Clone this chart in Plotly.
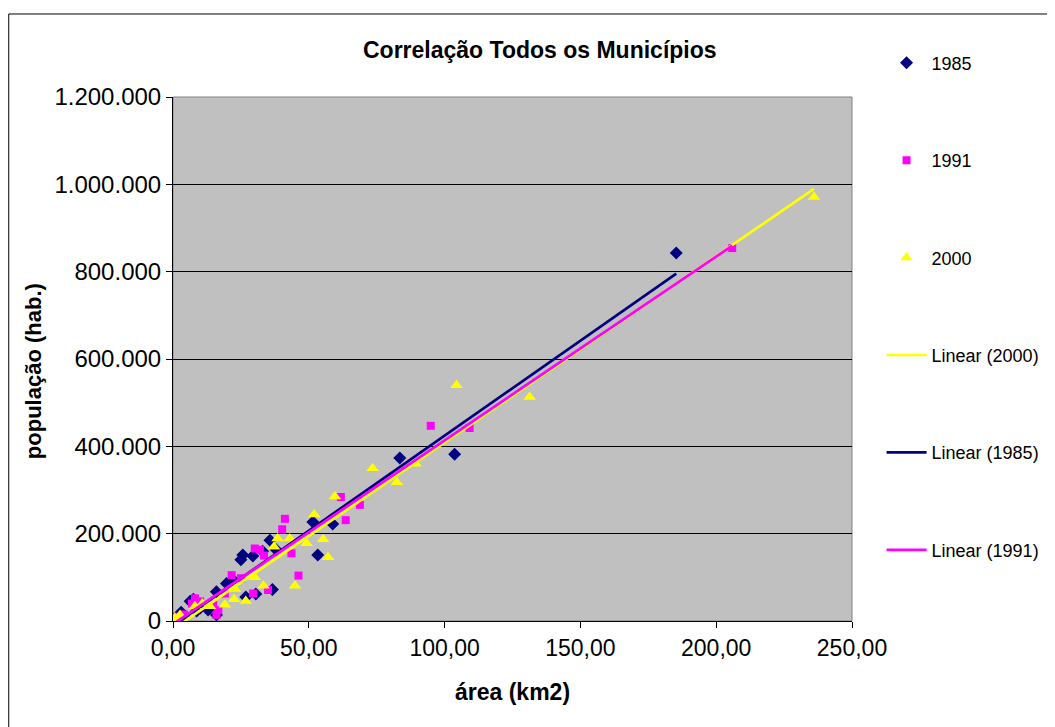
import numpy as np
import plotly.graph_objects as go

# ---- data (area km2, population in thousands) ----
area_1985 = [185.3, 103.7, 83.5, 58.8, 51.5, 53.3, 38.0, 35.7, 29.4, 25.7, 25.0, 36.6, 30.5,
             26.8, 19.7, 16.0, 12.9, 16.0, 8.7, 7.5, 6.3, 4.0, 2.0, 1.0, 3.0, 10.0, 22.0, 33.0]
pop_1985 = [843, 382, 373, 222, 227, 151, 163, 185, 149, 151, 140, 72, 62,
            55, 86, 67, 25, 14, 23, 50, 45, 12, 8, 5, 20, 30, 95, 160]

area_1991 = [205.9, 109.2, 94.9, 68.8, 63.6, 61.8, 41.2, 40.2, 43.6, 46.2, 30.1, 32.0, 35.0,
             29.5, 25.0, 21.6, 19.1, 14.8, 16.0, 16.7, 8.1, 7.0, 0.1, 2.0, 4.0, 10.0, 33.5]
pop_1991 = [854, 442, 447, 266, 231, 284, 234, 210, 155, 104, 166, 163, 71,
            63, 98, 105, 63, 38, 14, 25, 52, 40, 10, 5, 15, 45, 150]

area_2000 = [236.0, 131.3, 104.4, 89.3, 82.4, 73.5, 59.6, 57.1, 55.3, 52.0, 49.2, 44.9, 43.0,
             38.5, 37.2, 33.3, 30.1, 22.8, 22.5, 26.8, 19.1, 13.6, 10.8, 8.1, 2.6, 0.7, 1.5]
pop_2000 = [971, 513, 540, 360, 318, 350, 285, 146, 187, 244, 178, 81, 189,
            189, 170, 81, 100, 73, 50, 46, 37, 34, 40, 34, 14, 7, 3]

series_names = ["1985", "1991", "2000"]
colors = {"1985": "#000080", "1991": "#FF00FF", "2000": "#FFFF00"}
symbols = {"1985": "diamond", "1991": "square", "2000": "triangle-up"}
sizes = {"1985": 10, "1991": 8, "2000": 11}

data = {
    "1985": (area_1985, pop_1985),
    "1991": (area_1991, pop_1991),
    "2000": (area_2000, pop_2000),
}

FONT = "Liberation Sans, Arial, sans-serif"

fig = go.Figure()

for i, name in enumerate(series_names):
    xs, ys = data[name]
    fig.add_trace(go.Scatter(
        x=xs, y=[v * 1000 for v in ys], mode="markers", name=name,
        marker=dict(symbol=symbols[name], color=colors[name], size=sizes[name],
                    line=dict(width=0)),
        legendgroup=f"g{i}", legendrank=i + 1,
    ))

# linear trendlines (least squares fit of each series)
for j, name in enumerate(["2000", "1985", "1991"]):
    xs, ys = data[name]
    xa = np.array(xs, dtype=float)
    ya = np.array(ys, dtype=float) * 1000
    m, b = np.polyfit(xa, ya, 1)
    xl = np.array([xa.min(), xa.max()])
    fig.add_trace(go.Scatter(
        x=xl, y=m * xl + b, mode="lines", name=f"Linear ({name})",
        line=dict(color=colors[name], width=2.7),
        legendgroup=f"l{j}", legendrank=10 + j,
    ))

fig.update_layout(
    width=1047, height=719,
    margin=dict(l=165, r=202, t=89, b=106),
    paper_bgcolor="white",
    plot_bgcolor="#C0C0C0",
    separators=",.",
    font=dict(family=FONT, color="black", size=19),
    showlegend=True,
    legend=dict(
        x=1.042, xanchor="left", y=1.1, yanchor="top",
        font=dict(family=FONT, size=18, color="black"),
        tracegroupgap=71, bgcolor="rgba(0,0,0,0)",
        itemwidth=40, maxheight=700,
    ),
    xaxis=dict(
        range=[0, 250], tickvals=[0, 50, 100, 150, 200, 250], tickformat=",.2f",
        showgrid=False, zeroline=False,
        ticks="outside", ticklen=6, tickcolor="black",
        showline=True, linecolor="black", linewidth=1, mirror=False,
        tickfont=dict(size=23, family=FONT, color="black"),
    ),
    yaxis=dict(
        range=[0, 1200000], tickvals=[0, 200000, 400000, 600000, 800000, 1000000, 1200000],
        tickformat=",.0f",
        showgrid=True, gridcolor="black", gridwidth=1, zeroline=False,
        ticks="outside", ticklen=6, tickcolor="black",
        showline=True, linecolor="black", linewidth=1,
        tickfont=dict(size=24, family=FONT, color="black"),
    ),
    shapes=[
        # gray frame of plot area (top/right)
        dict(type="rect", xref="paper", yref="paper", x0=0, x1=1, y0=0, y1=1,
             line=dict(color="#808080", width=1), layer="below"),
        # outer chart border
        dict(type="rect", xref="paper", yref="paper", x0=-0.2419, x1=1.294,
             y0=-0.23, y1=1.1584, line=dict(color="black", width=1)),
    ],
    annotations=[
        dict(text="<b>Correlação Todos os Municípios</b>", xref="paper", yref="paper",
             x=0.54, y=1.09, xanchor="center", yanchor="middle", showarrow=False,
             font=dict(size=23, family=FONT, color="black")),
        dict(text="<b>área (km2)</b>", xref="paper", yref="paper",
             x=0.5, y=-0.1355, xanchor="center", yanchor="middle", showarrow=False,
             font=dict(size=23, family=FONT, color="black")),
        dict(text="<b>população (hab.)</b>", xref="paper", yref="paper",
             x=-0.206, y=0.477, xanchor="center", yanchor="middle", showarrow=False,
             textangle=-90, font=dict(size=22, family=FONT, color="black")),
    ],
)

fig.write_html("out.html")
